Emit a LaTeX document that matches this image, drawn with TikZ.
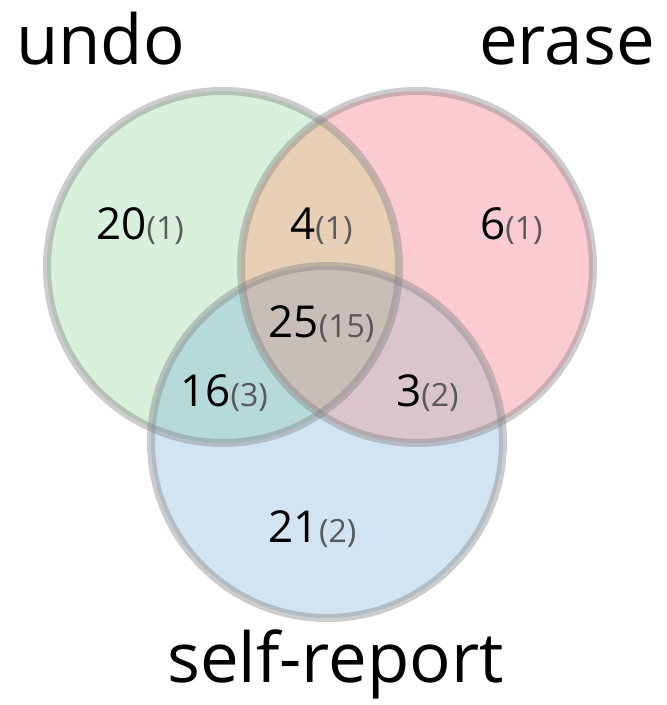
\documentclass[tikz,border=0pt]{standalone}
\usepackage{fontspec}
\setmainfont{Open Sans}
\definecolor{cgreen}{HTML}{D9F0DD}
\definecolor{cpink}{HTML}{FACBD0}
\definecolor{cblue}{HTML}{D2E4F2}
\definecolor{cue}{HTML}{E8D0B6}
\definecolor{cus}{HTML}{B6DADA}
\definecolor{ces}{HTML}{DAC5CC}
\definecolor{call}{HTML}{C9BDB8}
\definecolor{pgray}{HTML}{58595B}
\newcommand{\pcount}[1]{{\fontsize{32}{36}\selectfont\color{pgray}#1}}
\tikzset{
  ring/.style={draw=black!50, opacity=0.4, line width=8pt},
  num/.style={inner sep=0pt, anchor=base, font=\fontsize{44}{48}\selectfont},
  setlabel/.style={inner sep=0pt, anchor=base, font=\fontsize{69}{72}\selectfont}
}
\begin{document}
\begin{tikzpicture}[x=1pt,y=1pt]
\useasboundingbox (0,0) rectangle (667,705);
\coordinate (U) at (223,438);
\coordinate (E) at (417,438);
\coordinate (S) at (327,263);
\fill[cgreen] (U) circle (176pt);
\fill[cpink] (E) circle (176pt);
\fill[cblue] (S) circle (176pt);
\begin{scope}
  \clip (U) circle (176pt);
  \fill[cue] (E) circle (176pt);
  \fill[cus] (S) circle (176pt);
\end{scope}
\begin{scope}
  \clip (E) circle (176pt);
  \fill[ces] (S) circle (176pt);
  \begin{scope}
    \clip (U) circle (176pt);
    \fill[call] (S) circle (176pt);
  \end{scope}
\end{scope}
\draw[ring] (U) circle (176pt);
\draw[ring] (E) circle (176pt);
\draw[ring] (S) circle (176pt);
\node[num] (n20) at (140,465) {20\pcount{(1)}};
\node[num] (n4) at (321.5,465) {4\pcount{(1)}};
\node[num] (n6) at (511.5,465) {6\pcount{(1)}};
\node[num] (n25) at (321.5,367) {25\pcount{(15)}};
\node[num] (n16) at (224,298) {16\pcount{(3)}};
\node[num] (n3) at (427.5,298) {3\pcount{(2)}};
\node[num] (n21) at (312.5,162) {21\pcount{(2)}};
\node[setlabel] (lundo) at (100.5,640) {undo};
\node[setlabel] (lerase) at (567,640) {erase};
\node[setlabel] (lself) at (335.5,22) {self-report};
\end{tikzpicture}
\end{document}
